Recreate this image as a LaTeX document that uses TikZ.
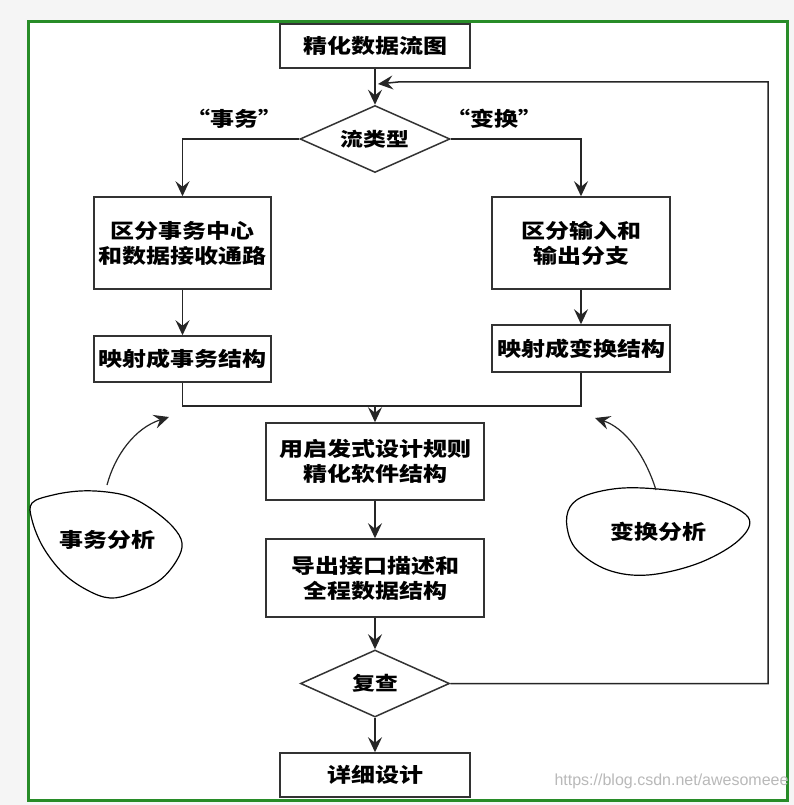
\documentclass[tikz,border=0pt]{standalone}
\usepackage{fontspec}
\usetikzlibrary{arrows.meta,shapes.geometric}
\newfontfamily\cjk{Noto Sans CJK SC}[FakeStretch=1.2]
\newfontfamily\wmfont{Liberation Sans}
\definecolor{frameg}{RGB}{40,140,40}
\begin{document}
\begin{tikzpicture}[x=1pt,y=-1pt,
  every node/.style={font=\cjk\bfseries\fontsize{20}{25}\selectfont},
  box/.style={draw=black!80,line width=1.5pt,fill=white,inner sep=0pt,align=center},
  dia/.style={diamond,draw=black!80,line width=1.5pt,fill=white,inner sep=0pt,aspect=2.2,font=\cjk\bfseries\fontsize{19}{23}\selectfont},
  arr/.style={draw=black!85,line width=1.5pt,-{Stealth[length=15pt,width=14pt,inset=5.5pt]}},
  ln/.style={draw=black!85,line width=1.5pt},
  blob/.style={draw=black,line width=1.2pt}
]
\useasboundingbox (0,0) rectangle (794,805);
\fill[gray!8] (0,0) rectangle (794,805);
\draw[line width=3pt,draw=frameg,fill=white] (28,22) rectangle (787,800);

\node[box,minimum width=190pt,minimum height=44pt] (top) at (375,46) {精化数据流图};
\node[dia,minimum width=150pt,minimum height=67pt] (d1) at (375,139) {流类型};
\node[box,minimum width=177pt,minimum height=92pt] (b1) at (182.5,243) {区分事务中心\\和数据接收通路};
\node[box,minimum width=178pt,minimum height=92pt] (b2) at (581,243) {区分输入和\\输出分支};
\node[box,minimum width=177pt,minimum height=46pt] (b3) at (182.5,359) {映射成事务结构};
\node[box,minimum width=178pt,minimum height=47pt] (b4) at (581,348.5) {映射成变换结构};
\node[box,minimum width=218pt,minimum height=77pt] (b5) at (375,461.5) {用启发式设计规则\\精化软件结构};
\node[box,minimum width=218pt,minimum height=78pt] (b6) at (375,578) {导出接口描述和\\全程数据结构};
\node[dia,minimum width=149pt,minimum height=67pt] (d2) at (375,683.5) {复查};
\node[box,minimum width=190pt,minimum height=44pt] (b7) at (375,775) {详细设计};

\node (l1) at (234,119) {“事务”};
\node (l2) at (494,119) {“变换”};

\draw[arr] (top.south) -- (d1.north);
\draw[arr] (d1.west) -| (b1.north);
\draw[arr] (d1.east) -| (b2.north);
\draw[arr] (b1.south) -- (b3.north);
\draw[arr] (b2.south) -- (b4.north);
\coordinate (m) at (375,406);
\draw[ln] (b3.south) |- (m);
\draw[ln] (b4.south) |- (m);
\draw[arr] (m) -- (b5.north);
\draw[arr] (b5.south) -- (b6.north);
\draw[arr] (b6.south) -- (d2.north);
\draw[arr] (d2.south) -- (b7.north);
\coordinate (rx) at (768,82);
\coordinate (fb) at (378,84);
\draw[arr] (d2.east) -| (rx) -- (rx -| 398,0) -- (fb);

\draw[blob] plot[smooth cycle, tension=0.6] coordinates {(32,503) (53,495) (80,491) (107,492) (130,497) (153,510) (173,527) (182,543) (177,560) (160,580) (133,593) (110,598) (87,590) (63,573) (43,547) (32,520)};
\draw[blob] plot[smooth cycle, tension=0.6] coordinates {(570,507) (587,495) (623,488) (668,490) (709,497) (748,517) (739,540) (699,563) (648,575) (608,570) (577,550) (567,527)};
\node (t1) at (107,540) {事务分析};
\node (t2) at (658,532) {变换分析};

\coordinate (a1s) at (107,485);
\coordinate (a1e) at (169,417);
\draw[arr,line width=1.2pt] (a1s) .. controls (115,455) and (135,428) .. (a1e);
\coordinate (a2s) at (656,490);
\coordinate (a2e) at (595,418);
\draw[arr,line width=1.2pt] (a2s) .. controls (645,455) and (625,428) .. (a2e);

\node[font=\wmfont\fontsize{16}{16}\selectfont,text=gray!55,anchor=east] (wm) at (792,781) {https://blog.csdn.net/awesomeee};
\end{tikzpicture}
\end{document}
